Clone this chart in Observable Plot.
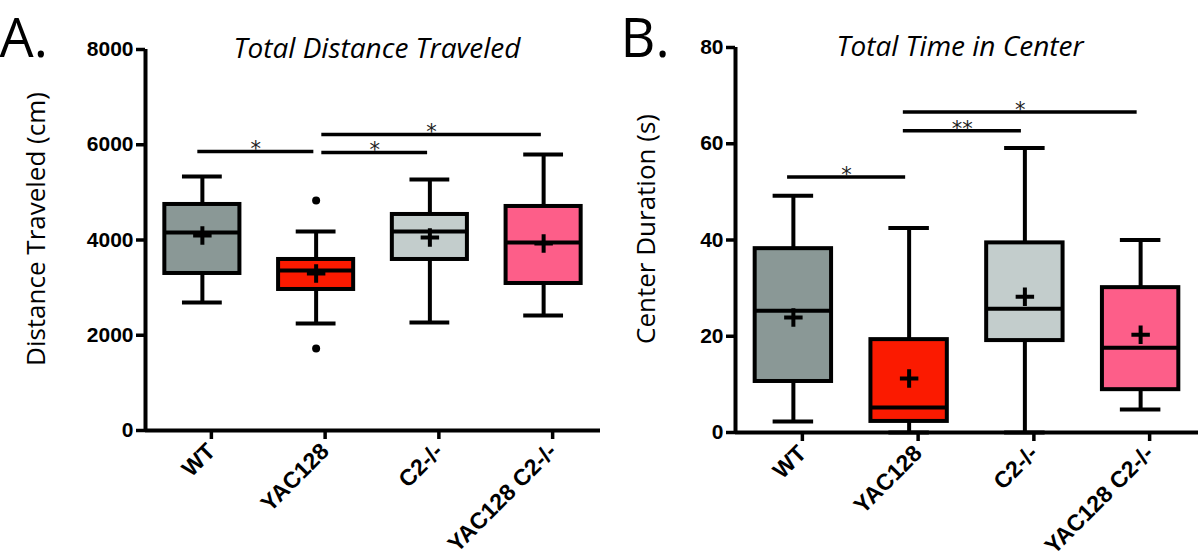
<!DOCTYPE html>
<html><head><meta charset="utf-8">
<script src="https://cdn.jsdelivr.net/npm/d3@7"></script>
<script src="https://cdn.jsdelivr.net/npm/@observablehq/plot@0.6"></script>
<style>
body{margin:0;background:#fff;}
#wrap{display:flex;width:1200px;height:559px;overflow:hidden;}
#wrap svg{display:block;}
</style></head><body><div id="wrap"><div id="a"></div><div id="b"></div></div>
<script>
// ---- shared ----
const categories = ["WT", "YAC128", "C2-/-", "YAC128 C2-/-"];
const palette = ["#8a9896", "#fb1a00", "#c3cdcc", "#fd5e89"];

// ---- Panel A: Total Distance Traveled ----
const distLow    = [2688, 2247, 2268, 2415];
const distQ1     = [3297, 2961, 3591, 3087];
const distMedian = [4158, 3360, 4179, 3948];
const distQ3     = [4746, 3591, 4536, 4704];
const distHigh   = [5334, 4179, 5271, 5796];
const distMean   = [4095, 3297, 4053, 3927];
const distOutlierGroup = [1, 1];
const distOutlierValue = [4830, 1722];
const distTicks = [0, 2000, 4000, 6000, 8000];
const distSigFrom  = [0, 1, 1];
const distSigTo    = [1, 2, 3];
const distSigValue = [5859, 5838, 6216];
const distSigLabel = ["*", "*", "*"];

// ---- Panel B: Total Time in Center ----
const timeLow    = [2.3, 0, 0, 4.8];
const timeQ1     = [10.6, 2.3, 19.1, 8.9];
const timeMedian = [25.3, 5.2, 25.7, 17.6];
const timeQ3     = [38.2, 19.3, 39.4, 30.1];
const timeHigh   = [49.2, 42.5, 59.1, 40.0];
const timeMean   = [23.9, 11.2, 28.2, 20.3];
const timeOutlierGroup = [];
const timeOutlierValue = [];
const timeTicks = [0, 20, 40, 60, 80];
const timeSigFrom  = [0, 1, 1];
const timeSigTo    = [1, 2, 3];
const timeSigValue = [53.1, 62.7, 66.6];
const timeSigLabel = ["*", "**", "*"];

function panel(cfg) {
  const rows = categories.map((c, i) => ({
    i, cat: c, lo: cfg.low[i], q1: cfg.q1[i], med: cfg.median[i],
    q3: cfg.q3[i], hi: cfg.high[i], mean: cfg.mean[i]
  }));
  const outliers = cfg.outGroup.map((g, k) => ({i: g, v: cfg.outValue[k]}));
  const sigs = cfg.sigFrom.map((a, k) => {
    const b = cfg.sigTo[k];
    const x1 = a + cfg.startInset(a), x2 = b - cfg.endInset;
    return {x1, x2, xm: (x1 + x2) / 2, y: cfg.sigValue[k], label: cfg.sigLabel[k]};
  });
  const yMax = cfg.ticks[cfg.ticks.length - 1];
  const hb = 0.33, hc = 0.175, sw = 4;
  const tickIdx = categories.map((_, i) => i);
  return Plot.plot({
    width: 600, height: 559,
    marginLeft: cfg.ml, marginRight: cfg.mr, marginTop: cfg.mt, marginBottom: cfg.mb,
    x: {domain: [-0.5, 3.5]},
    y: {domain: [0, yMax]},
    color: {domain: categories, range: palette},
    style: {fontFamily: "'Liberation Sans', Arial, sans-serif", color: "black", background: "white", overflow: "visible"},
    marks: [
      // whiskers
      Plot.ruleX(rows, {x: "i", y1: "lo", y2: "hi", stroke: "black", strokeWidth: sw}),
      Plot.ruleY(rows, {y: "hi", x1: d => d.i - hc, x2: d => d.i + hc, stroke: "black", strokeWidth: sw}),
      Plot.ruleY(rows, {y: "lo", x1: d => d.i - hc, x2: d => d.i + hc, stroke: "black", strokeWidth: sw}),
      // boxes
      Plot.rect(rows, {x1: d => d.i - hb, x2: d => d.i + hb, y1: "q1", y2: "q3", fill: "cat", stroke: "black", strokeWidth: sw}),
      Plot.ruleY(rows, {y: "med", x1: d => d.i - hb, x2: d => d.i + hb, stroke: "black", strokeWidth: sw}),
      Plot.dot(rows, {x: "i", y: "mean", symbol: "plus", r: 6, stroke: "black", strokeWidth: 4}),
      Plot.dot(outliers, {x: "i", y: "v", r: 4, fill: "black"}),
      // significance bars
      Plot.ruleY(sigs, {y: "y", x1: "x1", x2: "x2", stroke: "black", strokeWidth: 3.5}),
      Plot.text(sigs, {x: "xm", y: "y", text: "label", fontSize: 21, fill: "#222", fontFamily: "'DejaVu Sans', sans-serif", lineAnchor: "bottom", dy: 5}),
      // axes
      Plot.ruleX([-0.5], {y1: 0, y2: yMax, stroke: "black", strokeWidth: sw}),
      Plot.ruleY([0], {stroke: "black", strokeWidth: sw}),
      Plot.axisY({ticks: cfg.ticks, tickFormat: d => String(d), tickSize: 9, tickPadding: 3, fontSize: 21, fontWeight: "bold", strokeWidth: 3.5, label: null}),
      Plot.axisX({ticks: tickIdx, tickFormat: i => categories[i], tickRotate: -45, tickSize: 9, tickPadding: 8, dx: 9, fontSize: 23, fontWeight: "bold", strokeWidth: 3.5, label: null}),
      // titles & labels
      Plot.text([cfg.title], {frameAnchor: "top", dx: cfg.titleDx, dy: 8, lineAnchor: "bottom", fontSize: 28, fontStyle: "italic", fontFamily: "'Open Sans', sans-serif"}),
      Plot.text([cfg.ylabel], {frameAnchor: "left", textAnchor: "middle", rotate: -90, dx: cfg.ylabelDx, dy: -11, lineAnchor: "middle", fontSize: 26, fontFamily: "'Open Sans', sans-serif"}),
      Plot.text([cfg.letter], {frameAnchor: "top-left", textAnchor: "start", lineAnchor: "bottom", dx: cfg.letterDx, dy: cfg.letterDy, fontSize: 54, fontFamily: "'Open Sans', sans-serif"})
    ]
  });
}

document.getElementById("a").append(panel({
  low: distLow, q1: distQ1, median: distMedian, q3: distQ3, high: distHigh, mean: distMean,
  outGroup: distOutlierGroup, outValue: distOutlierValue, ticks: distTicks,
  sigFrom: distSigFrom, sigTo: distSigTo, sigValue: distSigValue, sigLabel: distSigLabel,
  startInset: a => (a === 0 ? -0.04 : 0.05), endInset: 0.02,
  ml: 145, mr: 0, mt: 49, mb: 129,
  title: "Total Distance Traveled", titleDx: 4,
  ylabel: "Distance Traveled (cm)", ylabelDx: -109,
  letter: "A.", letterDx: -146, letterDy: 7
}));
document.getElementById("b").append(panel({
  low: timeLow, q1: timeQ1, median: timeMedian, q3: timeQ3, high: timeHigh, mean: timeMean,
  outGroup: timeOutlierGroup, outValue: timeOutlierValue, ticks: timeTicks,
  sigFrom: timeSigFrom, sigTo: timeSigTo, sigValue: timeSigValue, sigLabel: timeSigLabel,
  startInset: a => -0.05, endInset: 0.03,
  ml: 135, mr: 2, mt: 47, mb: 127,
  title: "Total Time in Center", titleDx: -7,
  ylabel: "Center Duration (s)", ylabelDx: -89,
  letter: "B.", letterDx: -115, letterDy: 9
}));
</script></body></html>
